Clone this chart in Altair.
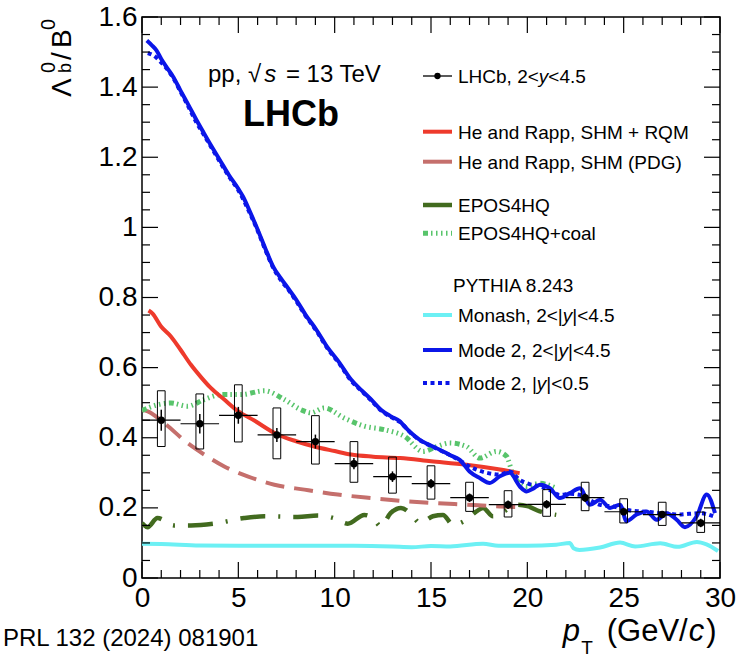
import altair as alt
import pandas as pd

# ---------------- data ----------------
# LHCb measurement
pt = [1, 3, 5, 7, 9, 11, 13, 15, 17, 19, 21, 23, 25, 27, 29]
ratio = [0.450, 0.440, 0.464, 0.408, 0.389, 0.326, 0.289, 0.269, 0.229, 0.209,
         0.210, 0.229, 0.189, 0.181, 0.157]
stat = [0.030, 0.028, 0.024, 0.020, 0.020, 0.016, 0.015, 0.013, 0.012, 0.012,
        0.012, 0.012, 0.010, 0.010, 0.012]
syst_hi = [0.534, 0.525, 0.551, 0.485, 0.463, 0.389, 0.345, 0.320, 0.273, 0.249,
           0.252, 0.273, 0.226, 0.216, 0.188]
syst_lo = [0.375, 0.368, 0.388, 0.340, 0.325, 0.273, 0.242, 0.225, 0.190, 0.174,
           0.176, 0.192, 0.157, 0.150, 0.130]
bin_half = 1.0

# He and Rapp, SHM + RQM
rqm_x = [0.34, 0.55, 0.98, 1.5, 2.0, 2.54, 3.06, 3.57, 4.27, 4.96, 5.83, 7.0, 8.0,
         8.94, 10.0, 10.85, 12.0, 13.4, 15.0, 16.84, 18.5, 19.6]
rqm_y = [0.763, 0.754, 0.718, 0.689, 0.651, 0.608, 0.573, 0.542, 0.509, 0.477, 0.449,
         0.410, 0.390, 0.375, 0.362, 0.352, 0.346, 0.342, 0.333, 0.323, 0.310, 0.299]

# He and Rapp, SHM (PDG)
pdg_x = [0.0, 0.3, 1.15, 2.36, 3.23, 4.27, 5.48, 6.87, 8.43, 10.16, 11.89, 13.5,
         15.1, 16.84, 18.57, 19.7]
pdg_y = [0.480, 0.475, 0.442, 0.385, 0.352, 0.318, 0.290, 0.266, 0.252, 0.238,
         0.228, 0.220, 0.214, 0.209, 0.204, 0.202]

# EPOS4HQ
epos_x = [0.0, 0.29, 0.8, 1.67, 2.54, 3.75, 5.3, 6.35, 8.08, 9.12, 10.0, 10.68, 11.54,
          12.0, 12.4, 12.9, 13.44, 14.0, 14.42, 15.1, 15.62, 16.14, 16.8, 17.36, 17.7,
          18.22, 18.8, 19.43, 20.0, 20.65, 21.5]
epos_y = [0.157, 0.145, 0.171, 0.150, 0.150, 0.155, 0.171, 0.176, 0.174, 0.178, 0.170,
          0.155, 0.180, 0.170, 0.147, 0.185, 0.200, 0.180, 0.157, 0.176, 0.180, 0.152,
          0.165, 0.190, 0.200, 0.176, 0.190, 0.209, 0.205, 0.190, 0.180]

# EPOS4HQ + coal
coal_x = [0.0, 0.8, 1.5, 2.36, 3.23, 4.1, 5.13, 6.35, 7.39, 8.25, 8.77, 9.46, 10.5,
          11.54, 12.58, 13.62, 14.59, 15.3, 15.97, 16.84, 17.53, 18.4, 18.92, 19.26,
          19.96, 20.65, 21.5]
coal_y = [0.478, 0.494, 0.499, 0.490, 0.509, 0.523, 0.523, 0.534, 0.509, 0.480, 0.471,
          0.485, 0.456, 0.433, 0.423, 0.404, 0.361, 0.375, 0.385, 0.375, 0.342, 0.361,
          0.347, 0.295, 0.261, 0.270, 0.256]

# PYTHIA 8.243 Monash, 2<|y|<4.5
mon_x = [0.0, 1.0, 3.0, 5.0, 7.0, 9.0, 11.0, 13.0, 14.0, 15.0, 16.0, 17.7, 18.5, 20.0,
         21.5, 22.2, 22.4, 22.7, 23.77, 24.81, 25.6, 26.9, 27.8, 28.8, 29.3, 29.9]
mon_y = [0.098, 0.097, 0.093, 0.092, 0.092, 0.092, 0.092, 0.090, 0.088, 0.091, 0.090,
         0.098, 0.092, 0.092, 0.095, 0.100, 0.085, 0.080, 0.087, 0.101, 0.090, 0.099,
         0.089, 0.103, 0.096, 0.077]

# PYTHIA 8.243 Mode 2, 2<|y|<4.5
m2_x = [0.25, 0.5, 0.75, 1.0, 1.3, 1.6, 2.0, 2.4, 2.82, 3.2, 3.6, 4.03, 4.5, 5.0, 5.24,
        5.6, 5.93, 6.4, 6.8, 7.2, 7.6, 8.0, 8.5, 9.05, 9.6, 10.26, 10.85, 11.4, 11.89,
        12.4, 12.92, 13.38, 13.62, 14.0, 14.42, 14.9, 15.45, 16.0, 16.49, 17.0, 17.53,
        18.05, 18.57, 19.09, 19.61, 19.96, 20.3, 20.65, 21.17, 21.69, 22.21, 22.73,
        23.25, 23.77, 24.29, 24.81, 25.15, 25.67, 26.19, 26.71, 27.23, 27.75, 28.18,
        28.79, 29.31, 29.74]
m2_y = [1.533, 1.520, 1.505, 1.480, 1.455, 1.431, 1.390, 1.350, 1.307, 1.270, 1.232,
        1.193, 1.150, 1.110, 1.088, 1.045, 1.003, 0.940, 0.889, 0.855, 0.825, 0.794,
        0.750, 0.708, 0.660, 0.613, 0.566, 0.535, 0.509, 0.480, 0.461, 0.447, 0.433,
        0.412, 0.394, 0.380, 0.366, 0.350, 0.337, 0.304, 0.285, 0.271, 0.290, 0.300,
        0.261, 0.247, 0.255, 0.266, 0.256, 0.228, 0.242, 0.256, 0.209, 0.223, 0.200,
        0.209, 0.162, 0.181, 0.190, 0.166, 0.185, 0.166, 0.145, 0.176, 0.238, 0.185]

# PYTHIA 8.243 Mode 2, |y|<0.5
m2c_x = [0.3, 0.6, 1.0, 1.6, 2.0, 2.4, 2.82, 3.2, 3.6, 4.03, 4.5, 5.0, 5.6, 5.93, 6.4,
         6.8, 7.2, 7.6, 8.0, 8.5, 9.05, 9.6, 10.26, 10.85, 11.4, 11.89, 12.4, 12.92,
         13.38, 14.0, 14.42, 14.9, 15.45, 16.0, 16.5, 17.0, 17.36, 17.9, 18.57, 19.09,
         19.6, 20.1, 20.65, 21.2, 21.69, 22.2, 22.73, 23.25, 23.77, 24.3, 24.81, 25.3,
         25.84, 26.4, 26.88, 27.4, 27.9, 28.4, 28.96, 29.65]
m2c_y = [1.497, 1.490, 1.470, 1.428, 1.387, 1.345, 1.300, 1.265, 1.228, 1.188, 1.146,
         1.106, 1.040, 1.000, 0.936, 0.886, 0.850, 0.822, 0.790, 0.747, 0.705, 0.657,
         0.610, 0.563, 0.533, 0.507, 0.478, 0.459, 0.445, 0.411, 0.393, 0.379, 0.365,
         0.350, 0.335, 0.318, 0.309, 0.300, 0.295, 0.304, 0.280, 0.268, 0.261, 0.250,
         0.237, 0.240, 0.237, 0.222, 0.209, 0.205, 0.200, 0.193, 0.190, 0.188, 0.185,
         0.183, 0.181, 0.183, 0.185, 0.176]

# axis ticks
x_major = [0, 5, 10, 15, 20, 25, 30]
x_minor = [1, 2, 3, 4, 6, 7, 8, 9, 11, 12, 13, 14, 16, 17, 18, 19, 21, 22, 23, 24,
           26, 27, 28, 29]
y_major = [0, 0.2, 0.4, 0.6, 0.8, 1.0, 1.2, 1.4, 1.6]
y_minor = [0.05, 0.1, 0.15, 0.25, 0.3, 0.35, 0.45, 0.5, 0.55, 0.65, 0.7, 0.75, 0.85,
           0.9, 0.95, 1.05, 1.1, 1.15, 1.25, 1.3, 1.35, 1.45, 1.5, 1.55]

# ---------------- styling / layout ----------------
FONT = "Liberation Sans"
X0, Y0 = 142, 17          # plot origin on the page
W, H = 578, 561           # plot area

C_RQM = "#ee3a2c"
C_PDG = "#c56f6c"
C_EPOS = "#426b1f"
C_COAL = "#58c46b"
C_MON = "#6cf0f4"
C_M2 = "#0b16e8"

D_PDG = [19, 10]
D_EPOS = [25, 13, 2, 13]
D_COAL = [5, 3, 1.5, 3.5, 1.5, 3.5, 1.5, 3.5, 1.5, 3.5]
D_M2C = [4, 3.5]

xs = alt.Scale(domain=[0, 30], nice=False, zero=False)
ys = alt.Scale(domain=[0, 1.6], nice=False, zero=False)

xaxis = alt.Axis(values=x_major, format="d", labelFontSize=28, labelFont=FONT,
                 labelColor="black", tickSize=0, domain=False, grid=False,
                 labelPadding=6, title=None, labelFlush=False, labelOverlap=False)
yaxis = alt.Axis(values=y_major, format="~g", labelFontSize=28, labelFont=FONT,
                 labelColor="black", tickSize=0, domain=False, grid=False,
                 labelPadding=5, title=None, labelFlush=False, labelOverlap=False)


def X(f):
    return alt.X(f, scale=xs, axis=xaxis)


def Y(f):
    return alt.Y(f, scale=ys, axis=yaxis)


CW = {' ': 278, ',': 278, '.': 278, '<': 584, '=': 584, '+': 584, '|': 260, '(': 333,
      ')': 333, '/': 278, '√': 549, 'L': 556, 'H': 722, 'C': 722, 'M': 833, 'o': 556,
      'n': 556, 'a': 556, 's': 500, 'h': 556, 'y': 500, 'd': 556, 'e': 556, 'p': 556,
      'R': 722, 'S': 667, 'Q': 778, 'P': 667, 'D': 722, 'G': 778, 'E': 667, 'O': 778,
      'T': 611, 'V': 667, 'c': 500, 'b': 556, 'Λ': 667, 'B': 667, 'l': 222, 'I': 278,
      'A': 667, 'Y': 667}


def tw(s, fs):
    return sum(CW.get(ch, 556) for ch in s) / 1000.0 * fs


one = pd.DataFrame({"a": [0]})


def txt(s, sx, sy, size, italic=False, bold=False, angle=0, dx=0, dy=0, align="left"):
    kw = dict(text=s, font=FONT, fontSize=size, color="black", align=align,
              baseline="alphabetic", dx=dx, dy=dy)
    if italic:
        kw["fontStyle"] = "italic"
    if bold:
        kw["fontWeight"] = "bold"
    if angle:
        kw["angle"] = angle
    return alt.Chart(one).mark_text(**kw).encode(x=alt.value(sx - X0), y=alt.value(sy - Y0))


def rich(segs, sx, sy, size, gap=0.0):
    out = []
    dx = 0.0
    for s, it in segs:
        lead = len(s) - len(s.lstrip())
        trail = len(s) - len(s.rstrip())
        dx += lead * tw(" ", size)
        core = s.strip()
        out.append(txt(core, sx, sy, size, italic=it, dx=dx))
        dx += tw(core, size) + trail * tw(" ", size) + gap
    return out


def curve(xv, yv, color, width, dash=None):
    df = pd.DataFrame({"x": xv, "y": yv})
    kw = dict(color=color, strokeWidth=width, interpolate="monotone", clip=True)
    if dash:
        kw["strokeDash"] = dash
    return alt.Chart(df).mark_line(**kw).encode(x=X("x:Q"), y=Y("y:Q"))


def swatch(y, color, width, dash=None):
    kw = dict(color=color, strokeWidth=width)
    if dash:
        kw["strokeDash"] = dash
    return alt.Chart(one).mark_rule(**kw).encode(
        x=alt.value(423 - X0), x2=alt.value(452 - X0), y=alt.value(y - Y0))


layers = []

# model curves
layers += [
    curve(mon_x, mon_y, C_MON, 4),
    curve(epos_x, epos_y, C_EPOS, 4.5, D_EPOS),
    curve(pdg_x, pdg_y, C_PDG, 4, D_PDG),
    curve(coal_x, coal_y, C_COAL, 5, D_COAL),
    curve(rqm_x, rqm_y, C_RQM, 4),
    curve(m2c_x, m2c_y, C_M2, 4, D_M2C),
    curve(m2_x, m2_y, C_M2, 4),
]

# LHCb data
d = pd.DataFrame({"pt": pt, "r": ratio, "stat": stat, "shi": syst_hi, "slo": syst_lo})
d["xlo"] = d["pt"] - bin_half
d["xhi"] = d["pt"] + bin_half
d["bx1"] = d["pt"] - 0.2
d["bx2"] = d["pt"] + 0.2
d["elo"] = d["r"] - d["stat"]
d["ehi"] = d["r"] + d["stat"]

base = alt.Chart(d)
layers += [
    base.mark_rect(filled=False, stroke="black", strokeWidth=1).encode(
        x=X("bx1:Q"), x2="bx2:Q", y=Y("slo:Q"), y2="shi:Q"),
    base.mark_rule(color="black", strokeWidth=1.2).encode(
        x=X("xlo:Q"), x2="xhi:Q", y=Y("r:Q")),
    base.mark_rule(color="black", strokeWidth=1.5).encode(
        x=X("pt:Q"), y=Y("elo:Q"), y2="ehi:Q"),
    base.mark_point(filled=True, shape="circle", size=55, color="black", opacity=1).encode(
        x=X("pt:Q"), y=Y("r:Q")),
]


# frame ticks (inward, on all four sides)
def xticks(vals, length):
    df = pd.DataFrame({"v": vals})
    bot = alt.Chart(df).mark_rule(color="black", strokeWidth=1.2).encode(
        x=X("v:Q"), y=alt.value(H), y2=alt.value(H - length))
    top = alt.Chart(df).mark_rule(color="black", strokeWidth=1.2).encode(
        x=X("v:Q"), y=alt.value(0), y2=alt.value(length))
    return [bot, top]


def yticks(vals, length):
    df = pd.DataFrame({"v": vals})
    lft = alt.Chart(df).mark_rule(color="black", strokeWidth=1.2).encode(
        y=Y("v:Q"), x=alt.value(0), x2=alt.value(length))
    rgt = alt.Chart(df).mark_rule(color="black", strokeWidth=1.2).encode(
        y=Y("v:Q"), x=alt.value(W), x2=alt.value(W - length))
    return [lft, rgt]


layers += xticks(x_major, 16) + xticks(x_minor, 8) + yticks(y_major, 16) + yticks(y_minor, 8)

# legend
LS = 19
layers.append(alt.Chart(one).mark_rule(color="black", strokeWidth=1.3).encode(
    x=alt.value(423 - X0), x2=alt.value(452 - X0), y=alt.value(76 - Y0)))
layers.append(alt.Chart(one).mark_point(filled=True, shape="circle", size=40,
                                        color="black", opacity=1).encode(
    x=alt.value(437.5 - X0), y=alt.value(76 - Y0)))
layers += rich([("LHCb, 2<", False), ("y", True), ("<4.5", False)], 458, 83, LS)

layers.append(swatch(131.7, C_RQM, 4))
layers.append(txt("He and Rapp, SHM + RQM", 458, 138.5, LS))
layers.append(swatch(161.7, C_PDG, 4))
layers.append(txt("He and Rapp, SHM (PDG)", 458, 168.5, LS))
layers.append(swatch(205, C_EPOS, 4.5))
layers.append(txt("EPOS4HQ", 458, 211.8, LS))
layers.append(swatch(233.3, C_COAL, 5, D_COAL))
layers.append(txt("EPOS4HQ+coal", 458, 240, LS))
layers.append(txt("PYTHIA 8.243", 453, 291.8, LS))
layers.append(swatch(315, C_MON, 4))
layers += rich([("Monash, 2<|", False), ("y", True), ("|<4.5", False)], 458, 321.8, LS)
layers.append(swatch(350, C_M2, 4))
layers += rich([("Mode 2, 2<|", False), ("y", True), ("|<4.5", False)], 458, 356.8, LS)
layers.append(swatch(383, C_M2, 4, D_M2C))
layers += rich([("Mode 2, |", False), ("y", True), ("|<0.5", False)], 458, 389.8, LS)

# annotations
layers += rich([("pp, √", False), ("s", True), (" = 13 TeV", False)], 208, 81.7, 24, gap=3)
layers.append(txt("LHCb", 243, 126, 36, bold=True))
layers.append(txt("PRL 132 (2024) 081901", 3, 645.5, 24))

# x-axis title: p_T (GeV/c)
XT_X, XT_Y, XT_S = 562.7, 641, 31
layers.append(txt("p", XT_X, XT_Y, XT_S, italic=True))
layers.append(txt("T", XT_X, XT_Y, 19, dx=18.5, dy=13))
layers.append(txt("(GeV/", XT_X, XT_Y, XT_S, dx=44))
layers.append(txt("c", XT_X, XT_Y, XT_S, italic=True, dx=44 + tw("(GeV/", XT_S) + 1))
layers.append(txt(")", XT_X, XT_Y, XT_S, dx=44 + tw("(GeV/", XT_S) + tw("c", XT_S) + 3))

# y-axis title: Lambda_b^0 / B^0 (rotated)
YT_X, YT_Y = 71, 97
layers.append(txt("Λ", YT_X, YT_Y, 28, angle=270))
layers.append(txt("0", YT_X, YT_Y, 20, angle=270, dx=24, dy=-16))
layers.append(txt("b", YT_X, YT_Y, 18, angle=270, dx=24, dy=0))
layers.append(txt("/", YT_X, YT_Y, 28, angle=270, dx=37))
layers.append(txt("B", YT_X, YT_Y, 28, angle=270, dx=49))
layers.append(txt("0", YT_X, YT_Y, 20, angle=270, dx=67, dy=-16))

chart = alt.layer(*layers).properties(
    width=W, height=H,
    padding={"left": X0, "top": Y0, "right": 747 - X0 - W, "bottom": 659 - Y0 - H},
    autosize=alt.AutoSizeParams(type="none"),
    background="white",
).configure_view(stroke="black", strokeWidth=1.5)

chart.save("out.html", embed_options={"renderer": "svg", "actions": False})
